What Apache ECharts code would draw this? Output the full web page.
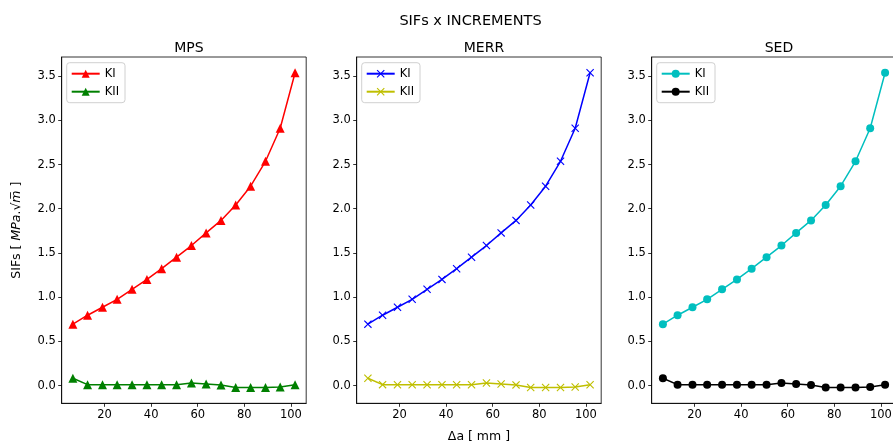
<!DOCTYPE html>
<html>
<head>
<meta charset="utf-8">
<script src="https://cdn.jsdelivr.net/npm/echarts@6/dist/echarts.min.js"></script>
<style>
  html, body { margin: 0; padding: 0; background: #fff; }
  #chart { width: 893px; height: 443px; }
</style>
</head>
<body>
<div id="chart"></div>
<script>
(function () {
    var chart = echarts.init(document.getElementById('chart'));

    // crack increment [mm]
    var increments = [6.4, 12.7, 19.1, 25.4, 31.8, 38.2, 44.5, 50.9, 57.3, 63.6, 70.0, 76.3, 82.7, 89.1, 95.4, 101.8];
    // SIFs per method (same values read on the 3 panels)
    var kiValues = [0.695, 0.796, 0.886, 0.976, 1.089, 1.201, 1.322, 1.452, 1.584, 1.727, 1.868, 2.042, 2.255, 2.537, 2.911, 3.538];
    var kiiValues = [0.083, 0.011, 0.009, 0.009, 0.009, 0.009, 0.009, 0.009, 0.030, 0.019, 0.008, -0.022, -0.022, -0.022, -0.015, 0.010];
    var methods = ['MPS', 'MERR', 'SED'];
    var xTicks = [20, 40, 60, 80, 100];
    var yTicks = [0, 0.5, 1.0, 1.5, 2.0, 2.5, 3.0, 3.5];

    var font = 'DejaVu Sans';
    var gridLefts = [61.7, 356.7, 651.7]; //三个子图左边
    var gridWidth = 244.5;
    var colors = [['#ff0000', '#008000'], ['#0000ff', '#bfbf00'], ['#00bfbf', '#000000']];
    var xMark = 'path://M0,1L1,0L5,4L9,0L10,1L6,5L10,9L9,10L5,6L1,10L0,9L4,5Z';
    var symbols = [['triangle', 9], [xMark, 8], ['circle', 8]];

    function pairs(vals) {
        return increments.map(function (x, i) { return [x, vals[i]]; });
    }

    var grids = [], xAxes = [], yAxes = [], series = [], legends = [];
    var titles = [{
        text: 'SIFs x INCREMENTS',
        left: 465.5, top: 9, textAlign: 'center',
        textStyle: { fontFamily: font, fontSize: 14.5, fontWeight: 'normal', color: '#000' }
    }];

    methods.forEach(function (m, i) {
        grids.push({
            left: gridLefts[i], top: 57, width: gridWidth, height: 346.3,
            outerBoundsMode: 'none', containLabel: false,
            show: true, borderColor: '#000', borderWidth: 0.8, backgroundColor: '#fff'
        });
        titles.push({
            text: m, left: gridLefts[i] + gridWidth / 2, top: 36, textAlign: 'center',
            textStyle: { fontFamily: font, fontSize: 14, fontWeight: 'normal', color: '#000' }
        });
        xAxes.push({
            type: 'value', gridIndex: i, min: 1.59, max: 106.57,
            axisLine: { show: true, onZero: false, lineStyle: { color: '#000', width: 0.8 } },
            axisTick: { show: true, length: 3.5, customValues: xTicks, lineStyle: { color: '#000', width: 0.8 } },
            axisLabel: { customValues: xTicks, margin: 6, fontFamily: font, fontSize: 11.5, color: '#000' },
            splitLine: { show: false },
            name: i === 1 ? 'Δa [ mm ]' : '',
            nameLocation: 'middle', nameGap: 27,
            nameTextStyle: { fontFamily: font, fontSize: 12.5, color: '#000' }
        });
        yAxes.push({
            type: 'value', gridIndex: i, min: -0.2, max: 3.716,
            axisLine: { show: true, lineStyle: { color: '#000', width: 0.8 } },
            axisTick: { show: true, length: 3.5, customValues: yTicks, lineStyle: { color: '#000', width: 0.8 } },
            axisLabel: {
                customValues: yTicks, margin: 6, fontFamily: font, fontSize: 11.5, color: '#000',
                formatter: function (v) { return v.toFixed(1); }
            },
            splitLine: { show: false },
            name: i === 0 ? '{n|SIFs [ }{i|MPa}{n|.√}{i|m̅}{n| ]}' : '',
            nameLocation: 'middle', nameGap: 38,
            nameTextStyle: {
                fontFamily: font, fontSize: 12.5, color: '#000',
                rich: {
                    n: { fontFamily: font, fontSize: 12.5, color: '#000' },
                    i: { fontFamily: font, fontSize: 12.5, color: '#000', fontStyle: 'italic' }
                }
            }
        });
        ['KI', 'KII'].forEach(function (k, j) {
            series.push({
                name: m + '-' + k,
                type: 'line',
                xAxisIndex: i, yAxisIndex: i,
                data: pairs(j === 0 ? kiValues : kiiValues),
                symbol: symbols[i][0], symbolSize: symbols[i][1],
                showAllSymbol: true,
                lineStyle: { color: colors[i][j], width: 1.5 },
                itemStyle: { color: colors[i][j], borderWidth: 0 }
            });
        });
        legends.push({
            orient: 'vertical', left: gridLefts[i] + 5, top: 62.7,
            data: [m + '-KI', m + '-KII'],
            formatter: function (name) { return name.split('-')[1]; },
            itemWidth: 28, itemHeight: 10, itemGap: 6,
            padding: [5, 6, 5, 4],
            borderColor: '#d0d0d0', borderWidth: 1, borderRadius: 3,
            backgroundColor: 'rgba(255,255,255,0.8)',
            selectedMode: false,
            textStyle: { fontFamily: font, fontSize: 11.5, color: '#000' }
        });
    });

    chart.setOption({
        animation: false,
        backgroundColor: '#fff',
        title: titles,
        grid: grids,
        xAxis: xAxes,
        yAxis: yAxes,
        legend: legends,
        series: series
    });
})();
</script>
</body>
</html>
